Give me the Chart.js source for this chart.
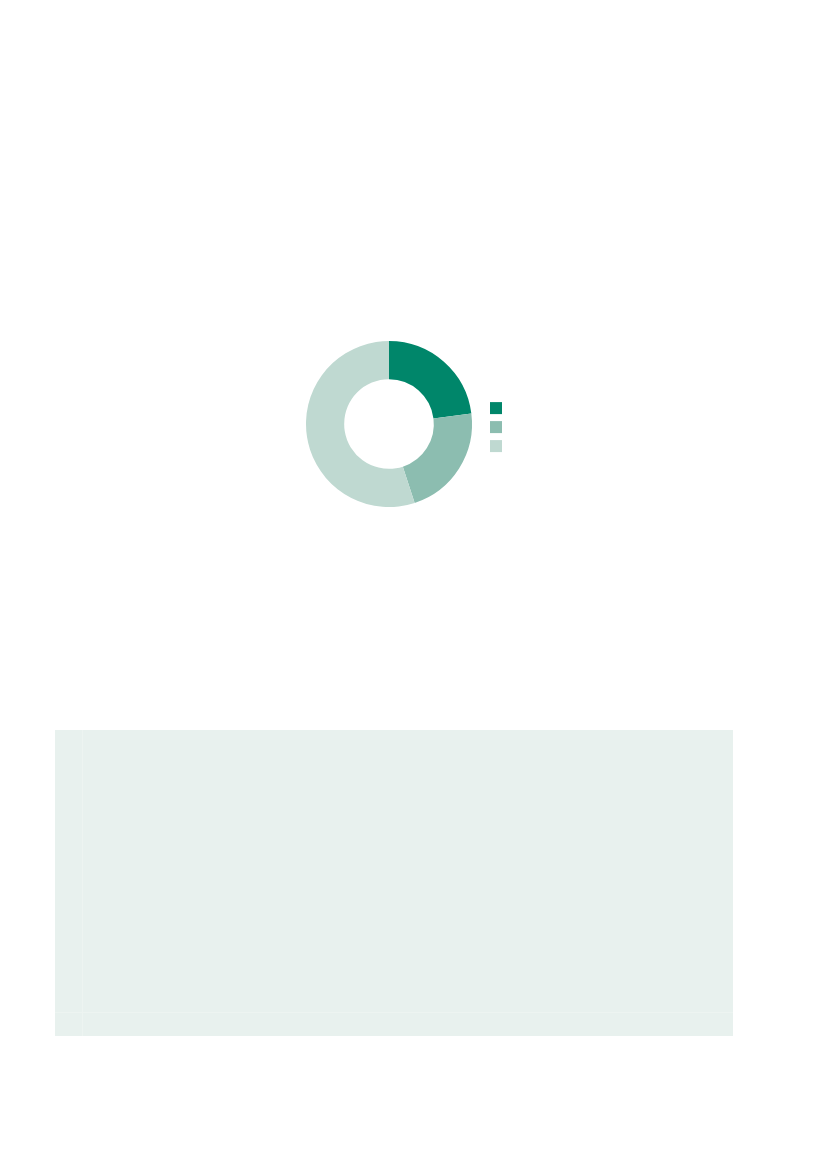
<!DOCTYPE html>
<html>
<head>
<meta charset="utf-8">
<script src="https://cdn.jsdelivr.net/npm/chart.js@4.4.0/dist/chart.umd.min.js"></script>
<style>
  html, body { margin: 0; padding: 0; background: #ffffff; }
  body { width: 827px; height: 1169px; position: relative; overflow: hidden; font-family: "Noto Sans", sans-serif; }
  #chartBox { position: absolute; left: 295px; top: 334px; width: 223px; height: 180px; }
  #panel { position: absolute; left: 55px; top: 730px; width: 678px; height: 306px; background: #e8f1ee; }
  #panel .vline { position: absolute; left: 27px; top: 0; width: 1px; height: 306px; background: #edf4f1; }
  #panel .hline { position: absolute; left: 0; top: 282px; width: 678px; height: 1px; background: #edf4f1; }
</style>
</head>
<body>
<div id="chartBox"><canvas id="myChart"></canvas></div>
<div id="panel"><div class="vline"></div><div class="hline"></div></div>
<script>
// --------------------
// Data
// --------------------
const categories = ["", "", ""];
const shares = [23, 22, 55];
const sliceColors = ["#00866a", "#8cbdb0", "#bfd9d1"];

// --------------------
// Build Chart
// --------------------
const ctx = document.getElementById("myChart").getContext("2d");

const chart = new Chart(ctx, {
  type: "doughnut",
  data: {
    labels: categories,
    datasets: [{
      data: shares,
      backgroundColor: sliceColors,
      borderWidth: 0,
      hoverOffset: 0
    }]
  },
  options: {
    responsive: true,
    maintainAspectRatio: false,
    animation: false,
    cutout: "54%",
    layout: { padding: { top: 7, bottom: 7, left: 0, right: 0 } },
    plugins: {
      legend: {
        position: "right",
        // empty title only nudges the legend boxes down a little
        title: { display: true, text: "", font: { size: 1 }, padding: { top: 5, bottom: 0 } },
        labels: {
          boxWidth: 12,
          boxHeight: 12,
          padding: 7,
          font: { size: 12 },
          color: "#333"
        }
      },
      tooltip: { enabled: false }
    }
  }
});
</script>
</body>
</html>
